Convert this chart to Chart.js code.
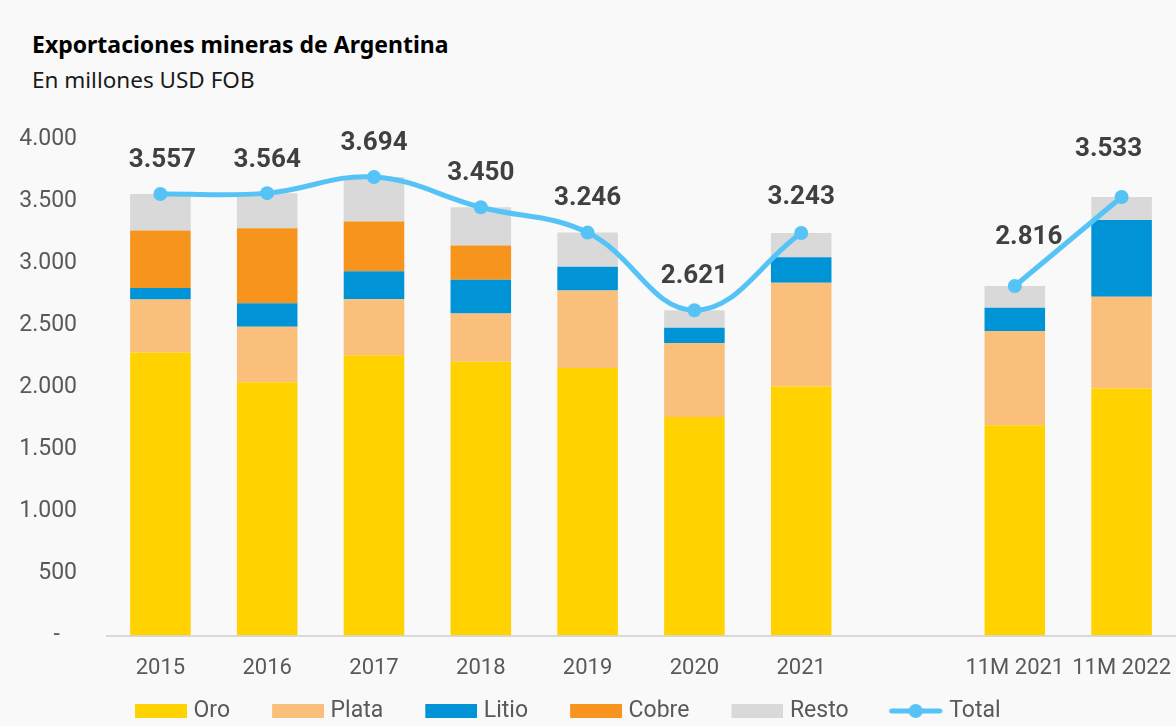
<!DOCTYPE html>
<html lang="es">
<head>
<meta charset="utf-8">
<title>Exportaciones mineras de Argentina</title>
<script src="https://cdn.jsdelivr.net/npm/chart.js@4.4.1/dist/chart.umd.min.js"></script>
<style>
  html, body { margin: 0; padding: 0; background: #f9f9f9; }
  .wrap { position: relative; width: 1176px; height: 726px; overflow: hidden; }
  .titulo { position: absolute; left: 32px; top: 28px; font: bold 23px "Noto Sans", sans-serif; color: #000; }
  .subtitulo { position: absolute; left: 32px; top: 64px; font: 22.5px "Noto Sans", sans-serif; color: #1a1a1a; }
  canvas { position: absolute; left: 0; top: 0; }
</style>
</head>
<body>
<div class="wrap">
  <div class="titulo">Exportaciones mineras de Argentina</div>
  <div class="subtitulo">En millones USD FOB</div>
  <canvas id="chart" width="1176" height="726"></canvas>
</div>
<script>
// datos (millones USD FOB)
const labels = ["2015", "2016", "2017", "2018", "2019", "2020", "2021", "", "11M 2021", "11M 2022"];
const oro   = [2280, 2040, 2259, 2205, 2156, 1760, 2006, null, 1695, 1990];
const plata = [427, 448, 451, 389, 624, 596, 836, null, 758, 739];
const litio = [92, 190, 224, 272, 192, 124, 205, null, 187, 618];
const cobre = [464, 604, 402, 276, 0, 0, 0, null, 0, 0];
const resto = [294, 282, 358, 308, 274, 141, 196, null, 176, 186];
const total = [3557, 3564, 3694, 3450, 3246, 2621, 3243, null, 2816, 3533];

const colores = {
  oro: "#ffd200",
  plata: "#f9bf7b",
  litio: "#0093d6",
  cobre: "#f7941e",
  resto: "#d9d9d9",
  total: "#55c3f6",
};

// desplazamiento de las etiquetas del total [dx, dy]
const labelOffsets = [[2, 33], [0, 33], [0, 33], [0, 34], [0, 34], [0, 34], [0, 35], [0, 0], [14, 48], [-13, 47]];

const fmt = (v) => String(v).replace(/\B(?=(\d{3})+(?!\d))/g, ".");

// icono del legend: rectángulo o línea con punto (con margen transparente a la izquierda)
function legendIcon(color, isLine) {
  const c = document.createElement("canvas");
  c.width = 85;
  c.height = 16;
  const g = c.getContext("2d");
  g.fillStyle = color;
  g.strokeStyle = color;
  if (isLine) {
    g.lineWidth = 5;
    g.lineCap = "round";
    g.beginPath();
    g.moveTo(34, 8);
    g.lineTo(82, 8);
    g.stroke();
    g.beginPath();
    g.arc(58, 8, 7, 0, Math.PI * 2);
    g.fill();
  } else {
    g.fillRect(33, 1, 52, 14);
  }
  return c;
}

const totalLabels = {
  id: "totalLabels",
  afterDatasetsDraw(chart) {
    const idx = chart.data.datasets.findIndex((d) => d.type === "line");
    const meta = chart.getDatasetMeta(idx);
    const ctx = chart.ctx;
    ctx.save();
    ctx.font = "bold 26px Roboto, sans-serif";
    ctx.fillStyle = "#404040";
    ctx.textAlign = "center";
    ctx.textBaseline = "middle";
    meta.data.forEach((pt, i) => {
      if (total[i] == null) return;
      const [dx, dy] = labelOffsets[i];
      ctx.fillText(fmt(total[i]), pt.x + dx, pt.y - dy);
    });
    ctx.restore();
  },
};

const barSet = (label, data, color) => ({
  type: "bar",
  label,
  data,
  backgroundColor: color,
  borderWidth: 0,
  order: 1,
  categoryPercentage: 1,
  barPercentage: 0.567,
});

new Chart(document.getElementById("chart"), {
  data: {
    labels,
    datasets: [
      barSet("Oro", oro, colores.oro),
      barSet("Plata", plata, colores.plata),
      barSet("Litio", litio, colores.litio),
      barSet("Cobre", cobre, colores.cobre),
      barSet("Resto", resto, colores.resto),
      {
        type: "line",
        label: "Total",
        data: total,
        stack: "total",
        borderColor: colores.total,
        backgroundColor: colores.total,
        borderWidth: 5,
        pointRadius: 7,
        pointHoverRadius: 7,
        pointBorderWidth: 0,
        tension: 0.4,
        spanGaps: false,
        order: 0,
      },
    ],
  },
  options: {
    responsive: false,
    animation: false,
    events: [],
    layout: { autoPadding: false, padding: { top: 139, left: 14, right: 1, bottom: -6.5 } },
    plugins: {
      tooltip: { enabled: false },
      legend: {
        position: "bottom",
        align: "start",
        fullSize: false,
        onClick: null,
        labels: {
          usePointStyle: true,
          pointStyleWidth: 75,
          boxHeight: 14,
          padding: 0,
          color: "#595959",
          font: { family: "Roboto, sans-serif", size: 23 },
          generateLabels: (chart) =>
            chart.data.datasets.map((d, i) => ({
              text: d.label + "\u2002\u200a",
              pointStyle: legendIcon(d.backgroundColor, d.type === "line"),
              fillStyle: d.backgroundColor,
              strokeStyle: d.backgroundColor,
              lineWidth: 0,
              fontColor: "#595959",
              datasetIndex: i,
            })),
        },
      },
    },
    scales: {
      x: {
        stacked: true,
        grid: { display: false, drawTicks: false },
        border: { display: true, color: "#d9d9d9", width: 2 },
        afterFit: (s) => {
          s.paddingLeft = 0;
          s.paddingRight = 0;
          s.height -= 1.5;
        },
        ticks: {
          color: "#595959",
          font: { family: "Roboto, sans-serif", size: 22 },
          padding: 19.5,
          maxRotation: 0,
          autoSkip: false,
        },
      },
      y: {
        stacked: true,
        min: 0,
        max: 4000,
        grid: { display: false, drawTicks: false },
        border: { display: false },
        afterFit: (s) => { s.width = 93; },
        ticks: {
          stepSize: 500,
          padding: 30,
          color: "#595959",
          font: { family: "Roboto, sans-serif", size: 23 },
          callback: (v) => (v === 0 ? "-   " : fmt(v)),
        },
      },
    },
  },
  plugins: [totalLabels],
});
</script>
</body>
</html>
